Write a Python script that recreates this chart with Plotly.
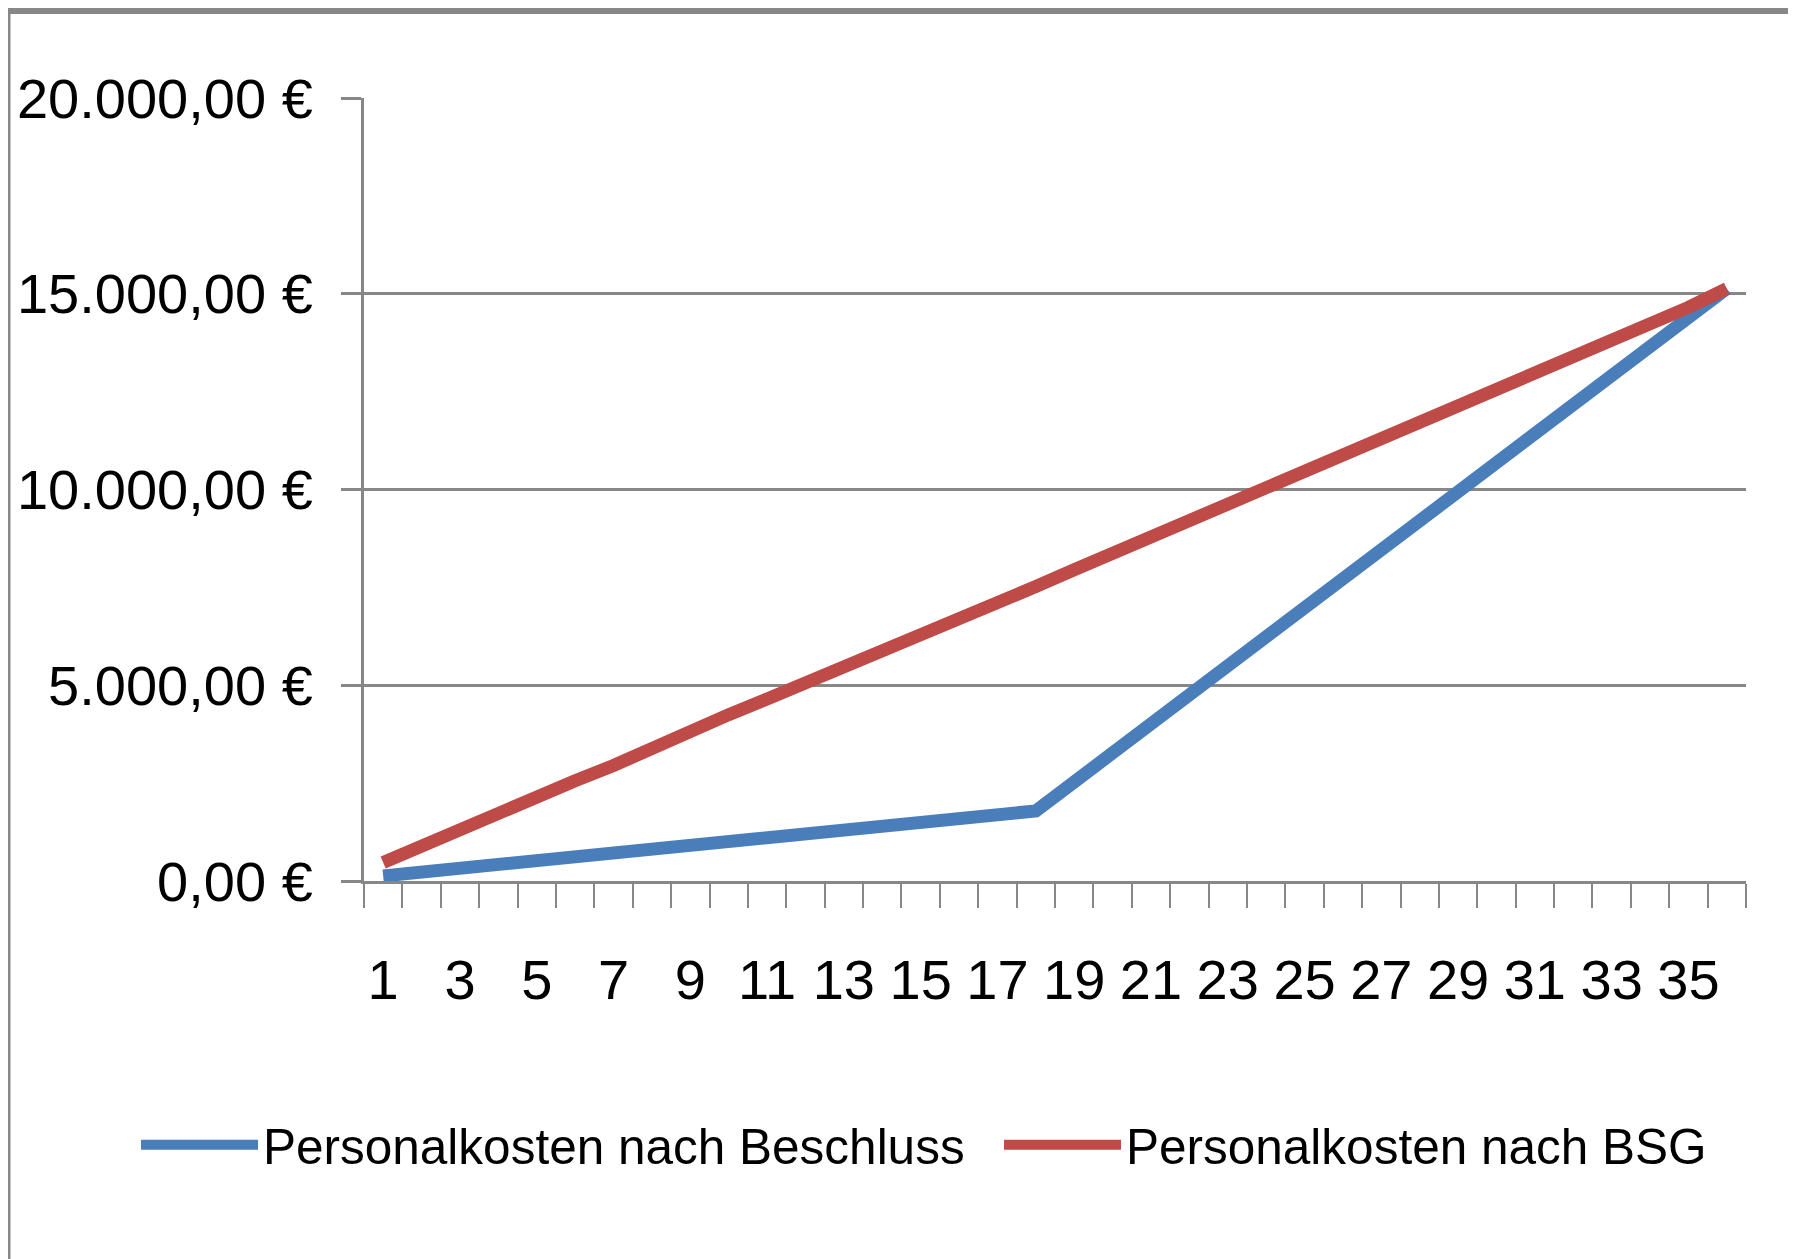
import plotly.graph_objects as go

categories = list(range(1, 37))
beschluss = [130, 230, 330, 420, 520, 610, 710, 810, 900, 1000, 1100, 1190,
             1290, 1390, 1480, 1580, 1680, 1790, 2530, 3270, 4010, 4760, 5500, 6240,
             6980, 7720, 8460, 9200, 9940, 10690, 11430, 12170, 12910, 13650, 14390, 15130]
bsg = [470, 900, 1300, 1700, 2180, 2560, 2950, 3400, 3830, 4250, 4650, 5050,
       5480, 5880, 6300, 6720, 7120, 7520, 7950, 8370, 8800, 9200, 9600, 10050,
       10450, 10850, 11280, 11700, 12120, 12520, 12930, 13350, 13780, 14200, 14650, 15130]
series_names = ["Personalkosten nach Beschluss", "Personalkosten nach BSG"]
x_tick_vals = list(range(1, 37, 2))
x_tick_text = [str(v) for v in x_tick_vals]
y_tick_vals = [0, 5000, 10000, 15000, 20000]
y_tick_text = ["0,00 €", "5.000,00 €", "10.000,00 €", "15.000,00 €", "20.000,00 €"]

FONT = "Liberation Sans, Arial, sans-serif"
GRID = "#878787"
BLUE = "#4A7EBB"
RED = "#BE4B48"

# page has an 8px body margin, so the figure is shifted by 8px
W, H = 1788, 1251
L, R, T, B = 356, 50, 90, 378
PW, PH = W - L - R, H - T - B


def px(xp):
    return (xp - L) / PW


def py(yp):
    return (H - B - yp) / PH


fig = go.Figure()
fig.add_trace(go.Scatter(x=categories, y=beschluss, mode="lines", name=series_names[0],
                         line=dict(color=BLUE, width=13), legend="legend"))
fig.add_trace(go.Scatter(x=categories, y=bsg, mode="lines", name=series_names[1],
                         line=dict(color=RED, width=13), legend="legend2"))

legend_common = dict(orientation="h", yanchor="middle", xanchor="left",
                     itemwidth=117, font=dict(family=FONT, size=49.5, color="black"),
                     bgcolor="rgba(0,0,0,0)", borderwidth=0)

fig.update_layout(
    width=W, height=H,
    margin=dict(l=L, r=R, t=T, b=B, autoexpand=False),
    paper_bgcolor="white", plot_bgcolor="white",
    font=dict(family=FONT, size=56, color="black"),
    showlegend=True,
    legend=dict(x=px(128), y=py(1137), **legend_common),
    legend2=dict(x=px(991), y=py(1137), **legend_common),
    shapes=[
        dict(type="line", xref="paper", yref="paper",
             x0=px(0), x1=px(W), y0=py(3), y1=py(3),
             line=dict(color=GRID, width=6)),
        dict(type="line", xref="paper", yref="paper",
             x0=px(1), x1=px(1), y0=py(0), y1=py(H),
             line=dict(color=GRID, width=3)),
    ],
)

fig.update_xaxes(
    range=[0.5, 36.5], tickmode="array", tickvals=x_tick_vals, ticktext=x_tick_text,
    ticks="", showgrid=False, zeroline=False, automargin=False,
    showline=True, linecolor=GRID, linewidth=3,
    tickfont=dict(family=FONT, size=56, color="black"),
    ticklabelstandoff=48,
    minor=dict(tickmode="linear", tick0=0.5, dtick=1, ticks="outside", ticklen=24,
               tickwidth=2, tickcolor=GRID, showgrid=False),
)
fig.update_yaxes(
    range=[0, 20000], tickmode="array", tickvals=y_tick_vals, ticktext=y_tick_text,
    ticks="outside", ticklen=20, tickwidth=3, tickcolor=GRID,
    showgrid=True, gridcolor=GRID, gridwidth=3, zeroline=False, automargin=False,
    showline=True, linecolor=GRID, linewidth=3,
    tickfont=dict(family=FONT, size=56, color="black"),
    ticklabelstandoff=17,
)

fig.write_html("out.html")
